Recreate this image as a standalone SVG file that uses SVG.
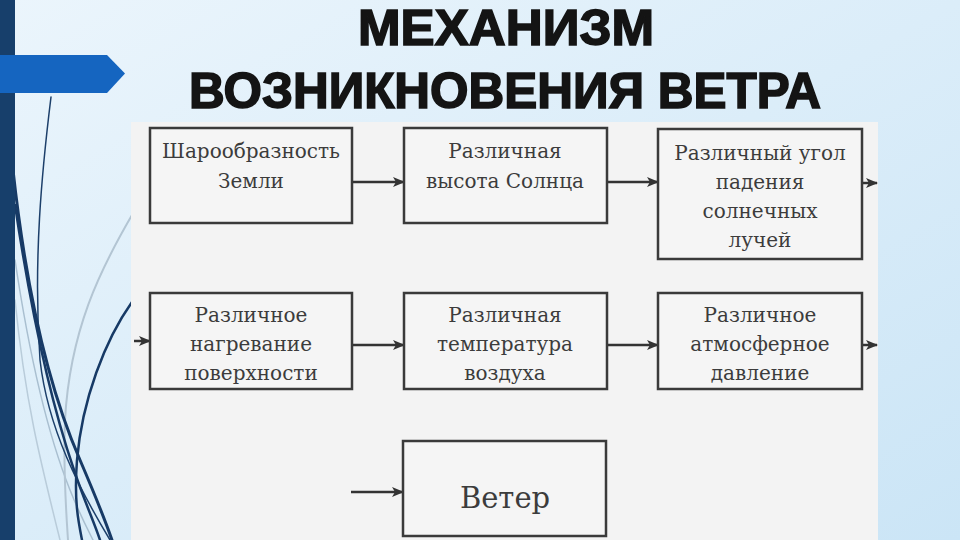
<svg xmlns="http://www.w3.org/2000/svg" width="960" height="540" viewBox="0 0 960 540">
  <defs>
    <linearGradient id="bg" x1="0" y1="0" x2="1" y2="1">
      <stop offset="0" stop-color="#ebf5fc"/>
      <stop offset="1" stop-color="#cbe5f6"/>
    </linearGradient>
    <marker id="ah" markerUnits="userSpaceOnUse" markerWidth="12" markerHeight="10" refX="11" refY="5" orient="auto">
      <path d="M0,0 L12,5 L0,10 L3,5 z" fill="#333"/>
    </marker>
    <style>
      .box { fill: #f5f5f5; stroke: #3a3a3a; stroke-width: 2.5; }
      .t { font-family: "DejaVu Serif", "Liberation Serif", serif; font-size: 20px; fill: #3c3c3c; text-anchor: middle; }
      .c { stroke: #333; stroke-width: 2.5; fill: none; marker-end: url(#ah); }
      .title { font-family: "Liberation Sans", "DejaVu Sans", sans-serif; font-weight: bold; font-size: 50px; fill: #141414; stroke: #141414; stroke-width: 1.6; }
      .deco { fill: none; stroke-linecap: round; }
    </style>
  </defs>

  <rect width="960" height="540" fill="url(#bg)"/>

  <!-- decorative curves -->
  <g id="decor">
    <path class="deco" d="M15,300 C25,400 40,460 60,540" stroke="#b9ccda" stroke-width="1.5"/>
    <path class="deco" d="M15,260 C30,360 50,440 70,490 C80,515 88,530 93,540" stroke="#a9bfd0" stroke-width="1.5"/>
    <path class="deco" d="M132,215 C100,270 70,330 65,420 C63,470 66,510 68,540" stroke="#b3c5d3" stroke-width="2"/>
    <path class="deco" d="M51,97 C42,170 33,260 40,360 C48,430 80,490 110,540" stroke="#1c3f6a" stroke-width="1.5"/>
    <path class="deco" d="M13,170 C25,280 45,380 80,460 C95,495 105,520 112,540" stroke="#173a66" stroke-width="3"/>
    <path class="deco" d="M15,205 C30,305 50,400 74,470 C84,500 94,522 100,540" stroke="#173a66" stroke-width="2.5"/>
    <path class="deco" d="M132,302 C105,340 82,400 77,460 C74,500 78,520 82,540" stroke="#173a66" stroke-width="2.5"/>
  </g>

  <rect x="0" y="0" width="15" height="540" fill="#173f6b"/>
  <path d="M0,55 L107,55 L125,73.5 L107,93 L0,93 z" fill="#1565c0"/>

  <text class="title" x="506" y="45" text-anchor="middle" textLength="296" lengthAdjust="spacingAndGlyphs">МЕХАНИЗМ</text>
  <text class="title" x="505" y="108" text-anchor="middle" textLength="632" lengthAdjust="spacingAndGlyphs">ВОЗНИКНОВЕНИЯ ВЕТРА</text>

  <rect x="131" y="122" width="747" height="418" fill="#f3f3f3"/>

  <g id="connectors">
    <line class="c" x1="352" y1="182" x2="404" y2="182"/>
    <line class="c" x1="607" y1="182" x2="658" y2="182"/>
    <line class="c" x1="862" y1="183" x2="877" y2="183"/>
    <line class="c" x1="134" y1="341" x2="150" y2="341"/>
    <line class="c" x1="352" y1="345" x2="404" y2="345"/>
    <line class="c" x1="607" y1="345" x2="658" y2="345"/>
    <line class="c" x1="862" y1="345" x2="877" y2="345"/>
    <line class="c" x1="351" y1="492" x2="403" y2="492"/>
  </g>

  <g id="n1">
    <rect class="box" x="150" y="128" width="202" height="95"/>
    <text class="t" x="251" y="158">Шарообразность</text>
    <text class="t" x="251" y="188">Земли</text>
  </g>
  <g id="n2">
    <rect class="box" x="404" y="128" width="203" height="95"/>
    <text class="t" x="505" y="158">Различная</text>
    <text class="t" x="505" y="188">высота Солнца</text>
  </g>
  <g id="n3">
    <rect class="box" x="658" y="129" width="204" height="130"/>
    <text class="t" x="760" y="160">Различный угол</text>
    <text class="t" x="760" y="189">падения</text>
    <text class="t" x="760" y="218">солнечных</text>
    <text class="t" x="760" y="247">лучей</text>
  </g>
  <g id="n4">
    <rect class="box" x="150" y="293" width="202" height="96"/>
    <text class="t" x="251" y="322">Различное</text>
    <text class="t" x="251" y="351">нагревание</text>
    <text class="t" x="251" y="380">поверхности</text>
  </g>
  <g id="n5">
    <rect class="box" x="404" y="293" width="203" height="96"/>
    <text class="t" x="505" y="322">Различная</text>
    <text class="t" x="505" y="351">температура</text>
    <text class="t" x="505" y="380">воздуха</text>
  </g>
  <g id="n6">
    <rect class="box" x="658" y="293" width="204" height="96"/>
    <text class="t" x="760" y="322">Различное</text>
    <text class="t" x="760" y="351">атмосферное</text>
    <text class="t" x="760" y="380">давление</text>
  </g>
  <g id="n7">
    <rect class="box" x="403" y="441" width="203" height="95"/>
    <text class="t" x="505" y="508" style="font-size:29px">Ветер</text>
  </g>
</svg>
